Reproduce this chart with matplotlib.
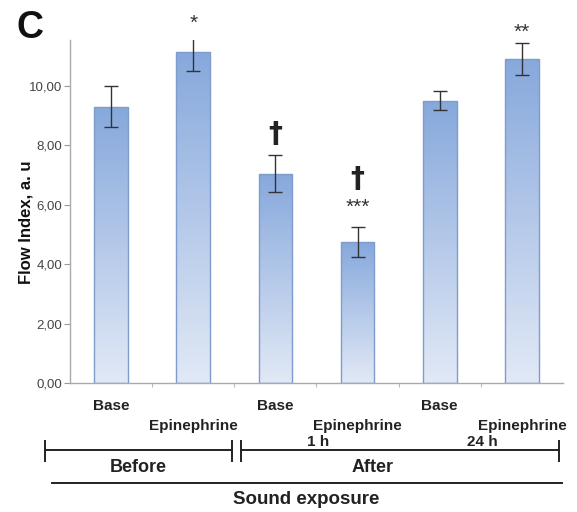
import numpy as np
import matplotlib
matplotlib.use("Agg")
import matplotlib.pyplot as plt
from matplotlib.colors import LinearSegmentedColormap

# data
groups = ["Base", "Epinephrine", "Base", "Epinephrine", "Base", "Epinephrine"]
flow_index = [9.3, 11.12, 7.05, 4.75, 9.5, 10.9]
flow_err = [0.7, 0.62, 0.63, 0.5, 0.32, 0.53]
marks = ["", "*", "\u2020", "\u2020\n***", "", "**"]
time_labels = ["", "", "", "1 h", "", "24 h"]
yticks = [0, 2, 4, 6, 8, 10]

plt.rcParams['font.family'] = ['Liberation Sans', 'DejaVu Sans']

fig = plt.figure(figsize=(5.77, 5.12), dpi=100)
ax = fig.add_axes([0.1213, 0.251, 0.8544, 0.671])

x = np.arange(len(groups))
bars = ax.bar(x, flow_index, width=0.41, color="none", edgecolor="#7f9ccc",
              linewidth=1.0, zorder=3)

# vertical gradient inside each bar
cmap = LinearSegmentedColormap.from_list("bluefade", ["#e2e9f6", "#86a8dc"])
grad = np.linspace(0, 1, 256).reshape(-1, 1)
for b in bars:
    x0, y0 = b.get_x(), b.get_y()
    w, h = b.get_width(), b.get_height()
    im = ax.imshow(grad, cmap=cmap, origin="lower", aspect="auto",
                   extent=[x0, x0 + w, y0, y0 + h], zorder=2)
    im.set_clip_path(b)

ax.errorbar(x, flow_index, yerr=flow_err, fmt="none", ecolor="#333333",
            elinewidth=1.0, capsize=5, capthick=1.0, zorder=4)

# significance marks
dag = dict(ha="center", va="bottom", fontsize=20, fontweight="bold",
           color="#222222", family="DejaVu Sans")
for xi, v, e, m in zip(x, flow_index, flow_err, marks):
    if not m:
        continue
    if m == "\u2020":
        ax.text(xi, v + e + 0.22, m, **dag)
    elif "\n" in m:
        ax.text(xi, v + e + 0.35, "***", ha="center", va="bottom",
                fontsize=15, color="#333333")
        ax.text(xi, v + e + 1.15, "\u2020", **dag)
    else:
        ax.text(xi, v + e + 0.05, m, ha="center", va="bottom", fontsize=15,
                color="#333333")

ax.set_xlim(-0.5, len(groups) - 0.5)
ax.set_ylim(0, 11.54)
ax.set_yticks(yticks)
ax.set_yticklabels([f"{t:.2f}".replace(".", ",") for t in yticks],
                   fontsize=9.5, color="#444444")
ax.set_xticks(np.arange(0.5, len(groups) - 1, 1.0))
ax.set_xticklabels([])
ax.tick_params(axis="y", length=4, color="#999999", width=0.8, pad=1.5)
ax.tick_params(axis="x", length=3, color="#bbbbbb", width=0.8)
for s in ["top", "right"]:
    ax.spines[s].set_visible(False)
for s in ["left", "bottom"]:
    ax.spines[s].set_color("#aaaaaa")
    ax.spines[s].set_linewidth(1.0)

# group labels below the axis
tr = ax.get_xaxis_transform()
for xi, g, t in zip(x, groups, time_labels):
    if g == "Base":
        ax.text(xi, -0.066, g, transform=tr, ha="center", va="center",
                fontsize=11, fontweight="bold", color="#222222")
    else:
        ax.text(xi, -0.124, g, transform=tr, ha="center", va="center",
                fontsize=11, fontweight="bold", color="#222222")
    if t:
        ax.text(xi - 0.48, -0.171, t, transform=tr, ha="center", va="center",
                fontsize=11, fontweight="bold", color="#222222")

# bracket lines in figure coordinates
W, H = 577, 512
def fx(px):
    return px / W
def fy(py):
    return 1 - py / H

fig.text(fx(26), fy(222), "Flow Index, a. u", rotation=90, ha="center",
         va="center", fontsize=12, fontweight="bold", color="#111111")

lk = dict(color="#222222", linewidth=1.4, transform=fig.transFigure)
fig.add_artist(plt.Line2D([fx(45), fx(232)], [fy(450), fy(450)], **lk))
fig.add_artist(plt.Line2D([fx(241), fx(559)], [fy(450), fy(450)], **lk))
for px in [45, 232, 241, 559]:
    fig.add_artist(plt.Line2D([fx(px), fx(px)], [fy(441), fy(461)], **lk))
fig.add_artist(plt.Line2D([fx(52), fx(562)], [fy(483), fy(483)], **lk))

fig.text(fx(138), fy(467), "Before", ha="center", va="center", fontsize=13,
         fontweight="bold", color="#222222")
fig.text(fx(373), fy(467), "After", ha="center", va="center", fontsize=13,
         fontweight="bold", color="#222222")
fig.text(fx(306), fy(499), "Sound exposure", ha="center", va="center",
         fontsize=13.5, fontweight="bold", color="#222222")

fig.text(fx(16), fy(28), "C", ha="left", va="center", fontsize=27,
         fontweight="bold", color="#111111")

fig.savefig("out.png", dpi=100)
